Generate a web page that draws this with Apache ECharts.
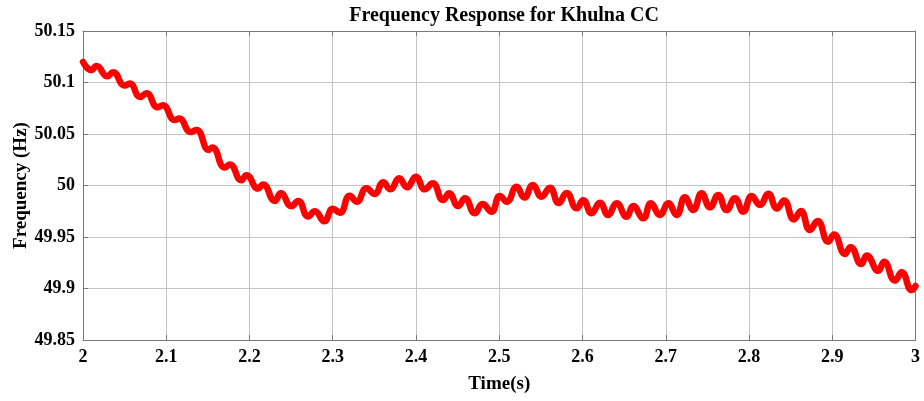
<!DOCTYPE html>
<html>
<head>
<meta charset="utf-8">
<script src="https://cdn.jsdelivr.net/npm/echarts@6/dist/echarts.min.js"></script>
<style>
html,body{margin:0;padding:0;background:#fff;}
#chart{width:924px;height:401px;}
</style>
</head>
<body>
<div id="chart"></div>
<script>
// Time (s) of each read-off point (alternating troughs / peaks)
const times = [
2.000,2.0101,2.0161,2.0294,2.0360,2.0501,2.0561,2.0687,2.0762,2.0895,
2.0958,2.1102,2.1154,2.1294,2.1363,2.1510,2.1553,2.1703,2.1763,2.1903,
2.1963,2.2103,2.2163,2.2304,2.2376,2.2504,2.2584,2.2704,2.2784,2.2898,
2.3001,2.3085,2.3205,2.3289,2.3405,2.3505,2.3605,2.3694,2.3797,2.3893,
2.3998,2.4106,2.4199,2.4326,2.4398,2.4506,2.4587,2.4707,2.4799,2.4907,
2.5007,2.5091,2.5208,2.5302,2.5404,2.5508,2.5608,2.5714,2.5809,2.5929,
2.6008,2.6109,2.6209,2.6309,2.6410,2.6530,2.6609,2.6729,2.6822,2.6930,
2.7030,2.7131,2.7230,2.7330,2.7431,2.7531,2.7630,2.7731,2.7831,2.7931,
2.8032,2.8132,2.8231,2.8336,2.8420,2.8540,2.8622,2.8732,2.8823,2.8952,
2.9021,2.9153,2.9219,2.9349,2.9414,2.9553,2.9622,2.9754,2.9834,2.9954,
3.000
];
// Frequency (Hz) at those times
const freqs = [
50.120,50.112,50.116,50.106,50.110,50.097,50.099,50.086,50.0895,50.076,
50.078,50.0636,50.065,50.052,50.054,50.0345,50.037,50.0175,50.0204,50.005,
50.010,49.997,50.001,49.985,49.9924,49.980,49.985,49.970,49.975,49.9653,
49.9774,49.9736,49.990,49.9843,49.9973,49.9917,50.0031,49.9963,50.007,49.9983,
50.0085,49.9963,50.0021,49.9859,49.9924,49.9801,49.9876,49.973,49.982,49.9746,
49.9898,49.9843,49.9988,49.9883,50.0005,49.9891,49.9978,49.983,49.9927,49.9779,
49.9856,49.973,49.9833,49.9714,49.9827,49.9697,49.9801,49.9682,49.9827,49.9714,
49.9827,49.9714,49.9885,49.9762,49.9924,49.9788,49.9908,49.9762,49.9876,49.9746,
49.9898,49.9811,49.992,49.9777,49.9854,49.967,49.9752,49.9568,49.9655,49.9454,
49.9524,49.9335,49.9401,49.9238,49.932,49.9172,49.926,49.9078,49.9158,49.8985,
49.9024
];
const titleText = 'Frequency Response for Khulna CC';
const xName = 'Time(s)';
const yName = 'Frequency (Hz)';

const FONT = '"Liberation Serif", "Times New Roman", serif';
const chart = echarts.init(document.getElementById('chart'), null, {renderer: 'canvas'});
const gridColor = '#c4c4c4';
const frameColor = '#7a7a7a';
const labelStyle = {color: '#000', fontFamily: FONT, fontWeight: 'bold', fontSize: 18};

const data = times.map((t, i) => [t, freqs[i]]);

chart.setOption({
  animation: false,
  backgroundColor: '#fff',
  title: {
    text: titleText,
    left: 499, top: 1, textAlign: 'center',
    textStyle: {color: '#000', fontFamily: FONT, fontWeight: 'bold', fontSize: 20}
  },
  grid: {left: 83, right: 8.5, top: 31, bottom: 61, containLabel: false, outerBoundsMode: 'none'},
  xAxis: [{
    type: 'value', min: 2, max: 3, interval: 0.1,
    name: xName, nameLocation: 'middle', nameGap: 35, nameMoveOverlap: false,
    nameTextStyle: {color: '#000', fontFamily: FONT, fontWeight: 'bold', fontSize: 19},
    axisLine: {show: true, onZero: false, lineStyle: {color: frameColor, width: 1}},
    axisTick: {show: true, inside: true, length: 5, lineStyle: {color: frameColor}},
    axisLabel: Object.assign({margin: 8, formatter: v => String(+v.toFixed(2))}, labelStyle),
    splitLine: {show: true, lineStyle: {color: gridColor, width: 1}}
  }, {
    type: 'value', min: 2, max: 3, interval: 0.1, position: 'top',
    axisLine: {show: true, onZero: false, lineStyle: {color: frameColor, width: 1}},
    axisTick: {show: true, inside: true, length: 5, lineStyle: {color: frameColor}},
    axisLabel: {show: false}, splitLine: {show: false}
  }],
  yAxis: [{
    type: 'value', min: 49.85, max: 50.15, interval: 0.05,
    name: yName, nameLocation: 'middle', nameGap: 52, nameRotate: 90, nameMoveOverlap: false,
    nameTextStyle: {color: '#000', fontFamily: FONT, fontWeight: 'bold', fontSize: 19},
    axisLine: {show: true, onZero: false, lineStyle: {color: frameColor, width: 1}},
    axisTick: {show: true, inside: true, length: 5, lineStyle: {color: frameColor}},
    axisLabel: Object.assign({margin: 8, formatter: v => String(+v.toFixed(2))}, labelStyle),
    splitLine: {show: true, lineStyle: {color: gridColor, width: 1}}
  }, {
    type: 'value', min: 49.85, max: 50.15, interval: 0.05, position: 'right',
    axisLine: {show: true, onZero: false, lineStyle: {color: frameColor, width: 1}},
    axisTick: {show: true, inside: true, length: 5, lineStyle: {color: frameColor}},
    axisLabel: {show: false}, splitLine: {show: false}
  }],
  series: [{
    type: 'line',
    data: data,
    xAxisIndex: 0, yAxisIndex: 0,
    smooth: 0.5,
    showSymbol: false,
    symbol: 'none',
    lineStyle: {color: '#ff0000', width: 6.5, cap: 'round', join: 'round'},
    clip: true
  }]
});
</script>
</body>
</html>
